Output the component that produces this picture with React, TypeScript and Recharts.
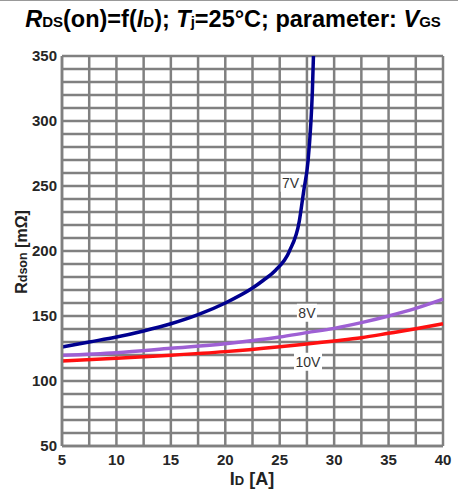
import { LineChart, Line, XAxis, YAxis, CartesianGrid, ReferenceDot } from 'recharts';

// drain current [A] / on-resistance [mΩ]
const vgs7 = [
  { id: 5, r: 126.2 }, { id: 7.5, r: 130 }, { id: 10, r: 133.8 }, { id: 12.5, r: 138.5 },
  { id: 15, r: 144 }, { id: 17.5, r: 151 }, { id: 20, r: 160 }, { id: 22.5, r: 171.5 },
  { id: 23.5, r: 177.5 }, { id: 24.6, r: 185 }, { id: 25.9, r: 200 }, { id: 26.8, r: 223 },
  { id: 27.2, r: 246 }, { id: 27.6, r: 269 }, { id: 27.85, r: 297 }, { id: 28.0, r: 323 },
  { id: 28.1, r: 350 },
];
const vgs8 = [
  { id: 5, r: 119.8 }, { id: 10, r: 121.8 }, { id: 15, r: 125.2 }, { id: 20, r: 128.7 },
  { id: 25, r: 133.8 }, { id: 27.5, r: 137.2 }, { id: 30, r: 140.5 }, { id: 32.5, r: 144.9 },
  { id: 35, r: 150 }, { id: 37.5, r: 155.9 }, { id: 40, r: 163 },
];
const vgs10 = [
  { id: 5, r: 115.4 }, { id: 10, r: 117.5 }, { id: 15, r: 119.8 }, { id: 20, r: 122.6 },
  { id: 25, r: 126.4 }, { id: 30, r: 130.8 }, { id: 32.5, r: 133.3 }, { id: 35, r: 136.7 },
  { id: 37.5, r: 140.2 }, { id: 40, r: 144 },
];

const curveLabels = [
  { text: '7V', id: 26.0, r: 252.5 },
  { text: '8V', id: 27.5, r: 152.5 },
  { text: '10V', id: 27.6, r: 114.8 },
];

// grid every 2.5 A / 10 mΩ, labels only on the major ones
const xTicks = [5, 7.5, 10, 12.5, 15, 17.5, 20, 22.5, 25, 27.5, 30, 32.5, 35, 37.5, 40];
const xLabels = [5, 10, 15, 20, 25, 30, 35, 40];
const yTicks = [50, 60, 70, 80, 90, 100, 110, 120, 130, 140, 150, 160, 170, 180, 190, 200,
  210, 220, 230, 240, 250, 260, 270, 280, 290, 300, 310, 320, 330, 340, 350];
const yLabels = [50, 100, 150, 200, 250, 300, 350];

const FONT = '"Liberation Sans", Arial, sans-serif';
const GRID = '#808080';

function BoxLabel({ viewBox, text }: { viewBox?: { x: number; y: number }; text: string }) {
  if (!viewBox) return null;
  const w = text.length * 8 + 4;
  return (
    <g>
      <rect x={viewBox.x - w / 2} y={viewBox.y - 9} width={w} height={18} fill="#fff" />
      <text x={viewBox.x} y={viewBox.y + 5} textAnchor="middle" fontSize={14} fill="#333" fontFamily={FONT}>
        {text}
      </text>
    </g>
  );
}

export default function App() {
  const sub = { fontSize: 15 };
  const tick = { fontSize: 15, fontWeight: 'bold', fill: '#262626', fontFamily: FONT };
  return (
    <div style={{ position: 'absolute', left: 0, top: 0, width: 458, height: 490, background: '#fff', borderTop: '1px solid #999', boxSizing: 'border-box', fontFamily: FONT }}>
      <div style={{ position: 'absolute', top: 5, left: 4, width: 458, textAlign: 'center', fontWeight: 'bold', fontSize: 23.5, lineHeight: '26px', color: '#000' }}>
        <i>R</i><span style={sub}>DS</span>(on)=f(<i>I</i><span style={sub}>D</span>); <i>T</i><span style={sub}>j</span>=25°C; parameter: <i>V</i><span style={sub}>GS</span>
      </div>
      <div style={{ position: 'absolute', left: 22, top: 251, transform: 'translate(-50%, -50%) rotate(-90deg)', whiteSpace: 'nowrap', fontWeight: 'bold', fontSize: 16, color: '#222' }}>
        R<span style={{ fontSize: 12.5 }}>dson</span> [mΩ]
      </div>
      <div style={{ position: 'absolute', left: 252, top: 478, transform: 'translate(-50%, -50%)', whiteSpace: 'nowrap', fontWeight: 'bold', fontSize: 18, color: '#222' }}>
        I<span style={{ fontSize: 13 }}>D</span> [A]
      </div>
      <div style={{ position: 'absolute', left: 0, top: 0 }}>
        <LineChart width={458} height={490} margin={{ top: 55, right: 15, bottom: 15, left: 0 }}>
          <CartesianGrid stroke={GRID} strokeWidth={2.5} />
          <XAxis
            dataKey="id"
            type="number"
            domain={[5, 40]}
            ticks={xTicks}
            interval={0}
            tickFormatter={(v: number) => (xLabels.includes(v) ? String(v) : '')}
            tickLine={false}
            axisLine={{ stroke: GRID, strokeWidth: 2.5 }}
            tick={tick}
            height={30}
            allowDuplicatedCategory={false}
          />
          <YAxis
            dataKey="r"
            type="number"
            domain={[50, 350]}
            ticks={yTicks}
            interval={0}
            tickFormatter={(v: number) => (yLabels.includes(v) ? String(v) : '')}
            tickLine={false}
            tickSize={3}
            axisLine={{ stroke: GRID, strokeWidth: 2.5 }}
            tick={tick}
            width={62}
            allowDataOverflow
          />
          <Line data={vgs10} dataKey="r" type="monotone" stroke="#ff1010" strokeWidth={3.5} dot={false} isAnimationActive={false} />
          <Line data={vgs8} dataKey="r" type="monotone" stroke="#9e60d4" strokeWidth={3.5} dot={false} isAnimationActive={false} />
          <Line data={vgs7} dataKey="r" type="monotone" stroke="#00008f" strokeWidth={3.5} dot={false} isAnimationActive={false} />
          {curveLabels.map((l) => (
            <ReferenceDot key={l.text} x={l.id} y={l.r} r={0} stroke="none" fill="none"
              label={(p: any) => <BoxLabel viewBox={p.viewBox} text={l.text} />} />
          ))}
        </LineChart>
      </div>
    </div>
  );
}
